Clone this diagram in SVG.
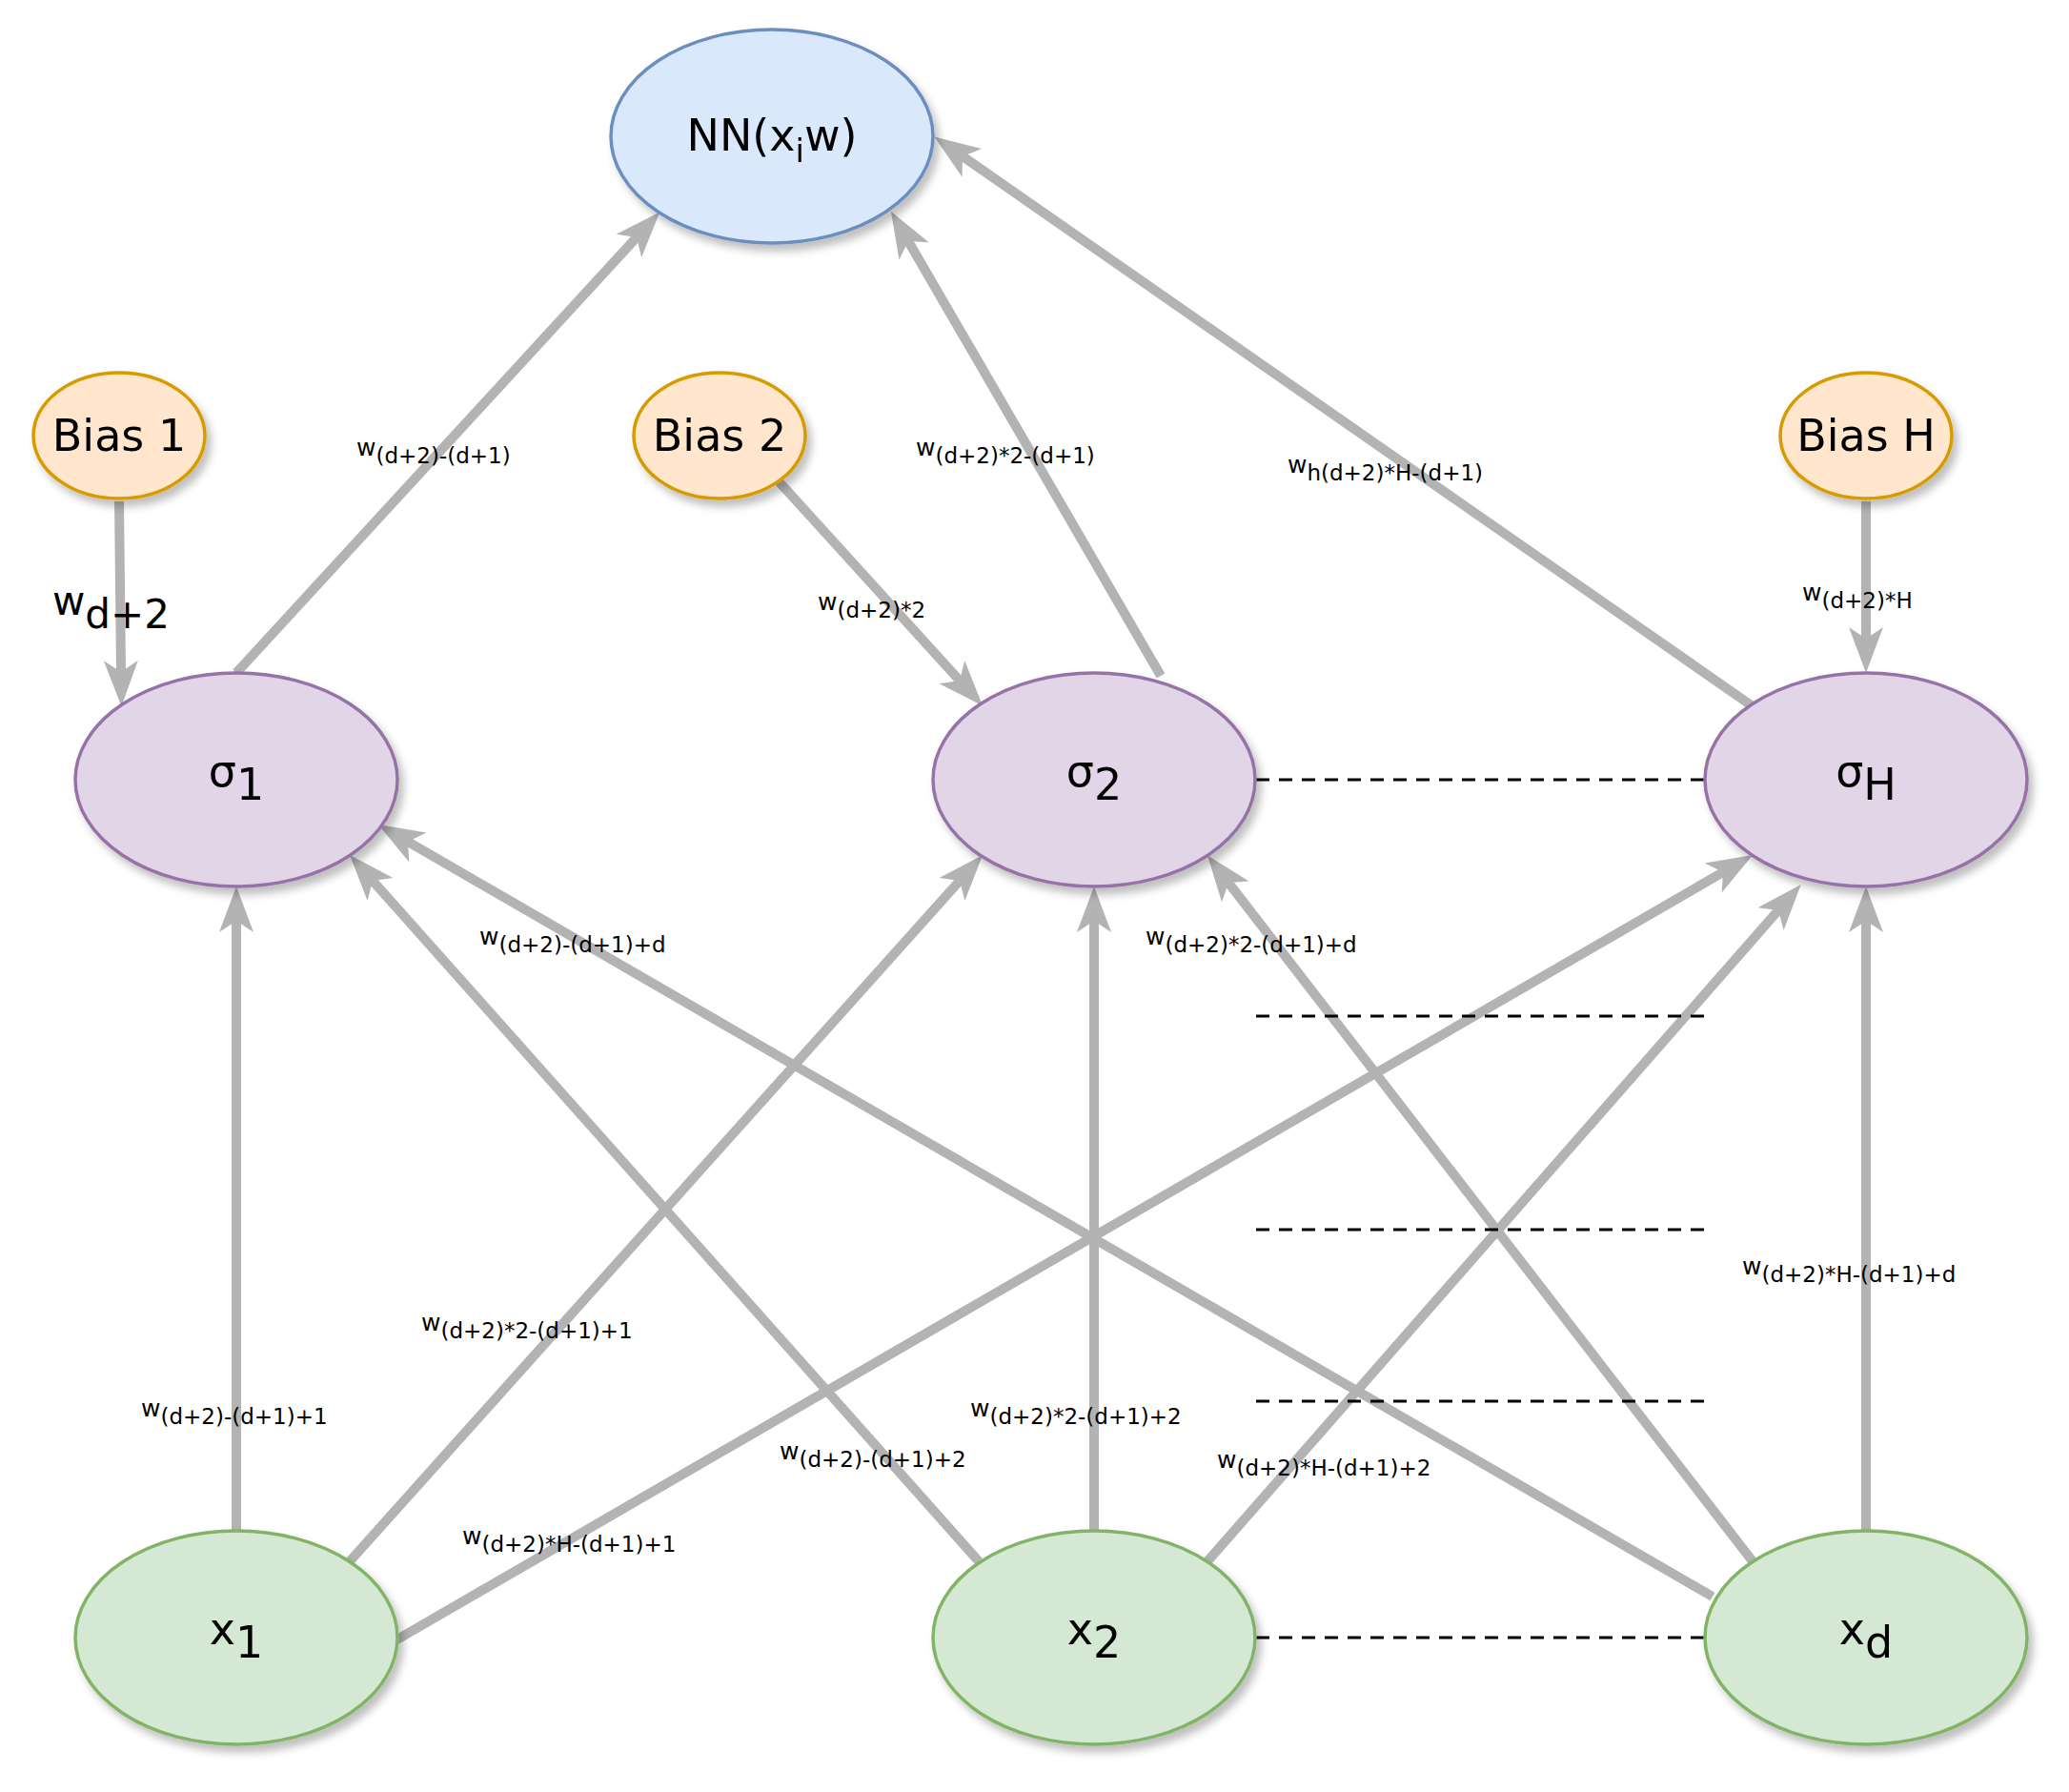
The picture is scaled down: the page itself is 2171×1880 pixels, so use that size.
<svg xmlns="http://www.w3.org/2000/svg" width="2171" height="1880" viewBox="0 0 2171 1880">
<style>
text{font-family:"DejaVu Sans","Liberation Sans",sans-serif;fill:#000}
.e{stroke:#B3B3B3;stroke-width:10;fill:none;marker-end:url(#ah)}
.d{stroke:#000;stroke-width:3;stroke-dasharray:14 10;fill:none}
.lb{font-size:25px}
.lb tspan.s{font-size:23px}
.nl{font-size:46px;text-anchor:middle}
.blue{fill:#DAE8FC;stroke:#6C8EBF;stroke-width:3.5}
.org{fill:#FFE6CC;stroke:#D79B00;stroke-width:3.5}
.pur{fill:#E1D5E7;stroke:#9673A6;stroke-width:3.5}
.grn{fill:#D5E8D4;stroke:#82B366;stroke-width:3.5}
</style>
<defs>
<filter id="sh" x="-20%" y="-20%" width="150%" height="150%"><feDropShadow dx="5" dy="7" stdDeviation="4" flood-color="#000" flood-opacity="0.25"/></filter>
<marker id="ah" markerUnits="userSpaceOnUse" markerWidth="50" markerHeight="40" refX="12" refY="18" orient="auto" viewBox="0 0 50 36"><path d="M0,0 L48,18 L0,36 L12,18 Z" fill="#B3B3B3"/></marker>
</defs>
<rect width="2171" height="1880" fill="#fff"/>
<g id="connectors">
<line class="e" x1="248" y1="706" x2="668" y2="249"/>
<line class="e" x1="1218" y1="709" x2="953" y2="253"/>
<line class="e" x1="1839" y1="741" x2="1010" y2="164"/>
<line class="e" x1="125" y1="526" x2="127" y2="705"/>
<line class="e" x1="817" y1="505" x2="1007" y2="714"/>
<line class="e" x1="1958" y1="526" x2="1958" y2="670"/>
<line class="e" x1="248" y1="1606" x2="248" y2="966"/>
<line class="e" x1="367" y1="1638" x2="1007" y2="924"/>
<line class="e" x1="415" y1="1721" x2="1808" y2="915"/>
<line class="e" x1="1027" y1="1638" x2="391" y2="924"/>
<line class="e" x1="1148" y1="1606" x2="1148" y2="966"/>
<line class="e" x1="1267" y1="1638" x2="1866" y2="955"/>
<line class="e" x1="1797" y1="1675" x2="428" y2="883"/>
<line class="e" x1="1839" y1="1638" x2="1289" y2="926"/>
<line class="e" x1="1958" y1="1606" x2="1958" y2="966"/>
<line class="d" x1="1318" y1="818" x2="1789" y2="818"/>
<line class="d" x1="1318" y1="1066" x2="1789" y2="1066"/>
<line class="d" x1="1318" y1="1290" x2="1789" y2="1290"/>
<line class="d" x1="1318" y1="1470" x2="1789" y2="1470"/>
<line class="d" x1="1318" y1="1718" x2="1789" y2="1718"/>
</g>
<g id="labels">
<text x="55" y="645" style="font-size:42px">w<tspan dy="14">d+2</tspan></text>
<text class="lb" x="374" y="478">w<tspan class="s" dy="8">(d+2)-(d+1)</tspan></text>
<text class="lb" x="858" y="640">w<tspan class="s" dy="8">(d+2)*2</tspan></text>
<text class="lb" x="961" y="478">w<tspan class="s" dy="8">(d+2)*2-(d+1)</tspan></text>
<text class="lb" x="1351" y="496">w<tspan class="s" dy="8">h(d+2)*H-(d+1)</tspan></text>
<text class="lb" x="1891" y="630">w<tspan class="s" dy="8">(d+2)*H</tspan></text>
<text class="lb" x="503" y="991">w<tspan class="s" dy="8">(d+2)-(d+1)+d</tspan></text>
<text class="lb" x="1202" y="991">w<tspan class="s" dy="8">(d+2)*2-(d+1)+d</tspan></text>
<text class="lb" x="1828" y="1337">w<tspan class="s" dy="8">(d+2)*H-(d+1)+d</tspan></text>
<text class="lb" x="442" y="1396">w<tspan class="s" dy="8">(d+2)*2-(d+1)+1</tspan></text>
<text class="lb" x="148" y="1486">w<tspan class="s" dy="8">(d+2)-(d+1)+1</tspan></text>
<text class="lb" x="1018" y="1486">w<tspan class="s" dy="8">(d+2)*2-(d+1)+2</tspan></text>
<text class="lb" x="818" y="1531">w<tspan class="s" dy="8">(d+2)-(d+1)+2</tspan></text>
<text class="lb" x="1277" y="1540">w<tspan class="s" dy="8">(d+2)*H-(d+1)+2</tspan></text>
<text class="lb" x="485" y="1620">w<tspan class="s" dy="8">(d+2)*H-(d+1)+1</tspan></text>
</g>
<g id="nn" filter="url(#sh)"><ellipse class="blue" cx="810" cy="143" rx="169" ry="112"/><text class="nl" x="810" y="158">NN(x<tspan dy="12" style="font-size:34px">i</tspan><tspan dy="-12">w)</tspan></text></g>
<g id="bias1" filter="url(#sh)"><ellipse class="org" cx="125" cy="457" rx="90" ry="66"/><text class="nl" x="125" y="473">Bias 1</text></g>
<g id="bias2" filter="url(#sh)"><ellipse class="org" cx="755" cy="457" rx="90" ry="66"/><text class="nl" x="755" y="473">Bias 2</text></g>
<g id="biasH" filter="url(#sh)"><ellipse class="org" cx="1958" cy="457" rx="90" ry="66"/><text class="nl" x="1958" y="473">Bias H</text></g>
<g id="s1" filter="url(#sh)"><ellipse class="pur" cx="248" cy="818" rx="169" ry="112"/><text class="nl" x="248" y="825">σ<tspan dy="14">1</tspan></text></g>
<g id="s2" filter="url(#sh)"><ellipse class="pur" cx="1148" cy="818" rx="169" ry="112"/><text class="nl" x="1148" y="825">σ<tspan dy="14">2</tspan></text></g>
<g id="sH" filter="url(#sh)"><ellipse class="pur" cx="1958" cy="818" rx="169" ry="112"/><text class="nl" x="1958" y="825">σ<tspan dy="14">H</tspan></text></g>
<g id="x1" filter="url(#sh)"><ellipse class="grn" cx="248" cy="1718" rx="169" ry="112"/><text class="nl" x="248" y="1725">x<tspan dy="14">1</tspan></text></g>
<g id="x2" filter="url(#sh)"><ellipse class="grn" cx="1148" cy="1718" rx="169" ry="112"/><text class="nl" x="1148" y="1725">x<tspan dy="14">2</tspan></text></g>
<g id="xd" filter="url(#sh)"><ellipse class="grn" cx="1958" cy="1718" rx="169" ry="112"/><text class="nl" x="1958" y="1725">x<tspan dy="14">d</tspan></text></g>
</svg>
